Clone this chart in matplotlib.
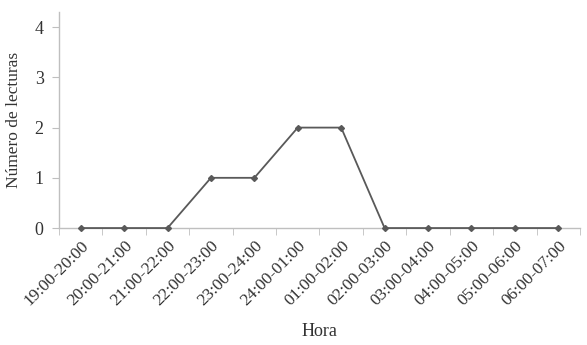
import matplotlib
matplotlib.use("Agg")
import matplotlib.pyplot as plt
import numpy as np

categories = ["19:00-20:00", "20:00-21:00", "21:00-22:00", "22:00-23:00", "23:00-24:00",
              "24:00-01:00", "01:00-02:00", "02:00-03:00", "03:00-04:00", "04:00-05:00",
              "05:00-06:00", "06:00-07:00"]
values = [0, 0, 0, 1, 1, 2, 2, 0, 0, 0, 0, 0]
yticks = [0, 1, 2, 3, 4]

plt.rcParams['font.family'] = ['Liberation Serif', 'DejaVu Serif']

fig = plt.figure(figsize=(5.87, 3.45), dpi=100)
ax = fig.add_axes([0.1005, 0.339, 0.8875, 0.626])

x = np.arange(len(categories))
ax.plot(x, values, color='#595959', lw=1.3, marker='D', ms=3, markerfacecolor='#595959',
        markeredgecolor='#595959', clip_on=False, zorder=3)

ax.set_xlim(-0.5, len(categories) - 0.5)
ax.set_ylim(0, 4.3)
ax.set_yticks(yticks)
ax.set_yticklabels([str(v) for v in yticks], fontsize=13, color='#333333')

ax.set_xticks(x)
ax.set_xticklabels(categories, rotation=45, ha='right', rotation_mode='anchor',
                   fontsize=12.5, color='#333333')
ax.tick_params(axis='x', length=0, pad=7)
ax.set_xticks(np.arange(-0.5, len(categories), 1), minor=True)
ax.tick_params(axis='x', which='minor', length=5, color='#bfbfbf', direction='out')
ax.tick_params(axis='y', length=5, color='#bfbfbf', direction='out', pad=6)

for s in ['top', 'right']:
    ax.spines[s].set_visible(False)
for s in ['left', 'bottom']:
    ax.spines[s].set_color('#bfbfbf')
    ax.spines[s].set_linewidth(1)

ax.set_ylabel('Número de lecturas', fontsize=12.5, color='#333333', labelpad=9)
ax.set_xlabel('Hora', fontsize=13, color='#333333', labelpad=10)

fig.savefig('out.png', dpi=100)
